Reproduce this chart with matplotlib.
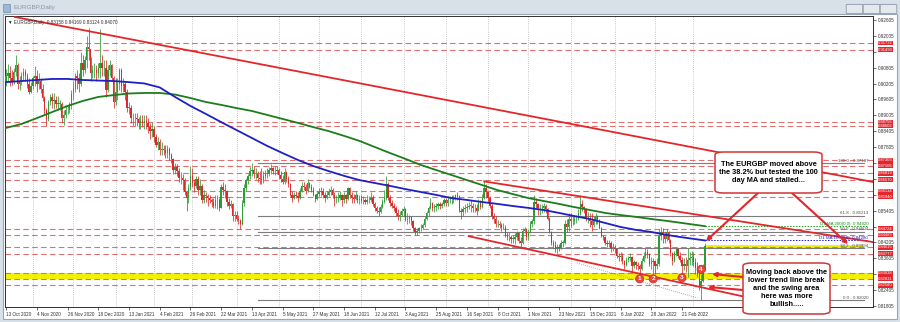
import matplotlib
matplotlib.use("Agg")
import matplotlib.pyplot as plt
import matplotlib.transforms as mtransforms
from matplotlib.patches import Rectangle, FancyBboxPatch
import numpy as np
import pandas as pd

plt.rcParams['font.family'] = ['Liberation Sans', 'DejaVu Sans']

# ---- daily EURGBP bars, 13 Oct 2020 .. 9 Mar 2022 (open = previous close) ----
first_open = 0.9030
closes = [
    # Oct 2020
    0.9050, 0.9060, 0.9040, 0.9030, 0.9065, 0.9090, 0.9020, 0.9030, 0.9050, 0.9065, 0.9050, 0.9020, 0.8990, 0.9010,
    # Nov 2020
    0.9040, 0.9050, 0.9020, 0.9030, 0.9000, 0.8965, 0.8920, 0.8885, 0.8950, 0.8970, 0.8955, 0.8960, 0.8945, 0.8945,
    0.8945, 0.8890, 0.8900, 0.8920, 0.8920, 0.8940, 0.8980,
    # Dec 2020
    0.9000, 0.9050, 0.9040, 0.9020, 0.9100, 0.9070, 0.9110, 0.9160, 0.9150, 0.9060, 0.9070, 0.9070, 0.9060, 0.9080,
    0.9100, 0.9080, 0.9080, 0.8995, 0.9070, 0.9090, 0.9040, 0.8950,
    # Jan 2021
    0.8990, 0.9020, 0.9070, 0.9010, 0.9020, 0.8990, 0.8930, 0.8930, 0.8890, 0.8890, 0.8890, 0.8885, 0.8870, 0.8880,
    0.8870, 0.8880, 0.8870, 0.8855, 0.8840, 0.8850,
    # Feb 2021
    0.8820, 0.8790, 0.8800, 0.8770, 0.8775, 0.8770, 0.8760, 0.8775, 0.8750, 0.8735, 0.8695, 0.8705, 0.8690, 0.8665,
    0.8665, 0.8655, 0.8610, 0.8590, 0.8625, 0.8670,
    # Mar 2021
    0.8645, 0.8635, 0.8660, 0.8620, 0.8635, 0.8580, 0.8600, 0.8595, 0.8590, 0.8580, 0.8575, 0.8560, 0.8580, 0.8580,
    0.8550, 0.8630, 0.8620, 0.8615, 0.8575, 0.8560, 0.8565, 0.8520, 0.8525,
    # Apr 2021
    0.8510, 0.8505, 0.8490, 0.8570, 0.8625, 0.8655, 0.8670, 0.8690, 0.8695, 0.8680, 0.8680, 0.8665, 0.8660, 0.8655,
    0.8670, 0.8680, 0.8680, 0.8695, 0.8700, 0.8690, 0.8690, 0.8695,
    # May 2021
    0.8675, 0.8660, 0.8650, 0.8685, 0.8660, 0.8640, 0.8600, 0.8590, 0.8600, 0.8595, 0.8590, 0.8615, 0.8635, 0.8630,
    0.8615, 0.8645, 0.8630, 0.8620, 0.8600, 0.8585, 0.8605,
    # Jun 2021
    0.8610, 0.8615, 0.8600, 0.8590, 0.8600, 0.8610, 0.8620, 0.8600, 0.8585, 0.8585, 0.8590, 0.8600, 0.8580, 0.8600,
    0.8585, 0.8625, 0.8600, 0.8590, 0.8585, 0.8600, 0.8580, 0.8585,
    # Jul 2021
    0.8580, 0.8580, 0.8575, 0.8580, 0.8580, 0.8590, 0.8565, 0.8550, 0.8540, 0.8535, 0.8555, 0.8575, 0.8590, 0.8640,
    0.8590, 0.8570, 0.8560, 0.8550, 0.8530, 0.8520, 0.8525, 0.8540,
    # Aug 2021
    0.8545, 0.8505, 0.8510, 0.8515, 0.8500, 0.8475, 0.8460, 0.8465, 0.8475, 0.8475, 0.8485, 0.8510, 0.8530, 0.8550,
    0.8570, 0.8550, 0.8555, 0.8560, 0.8565, 0.8560, 0.8565, 0.8580,
    # Sep 2021
    0.8570, 0.8580, 0.8580, 0.8580, 0.8590, 0.8600, 0.8595, 0.8540, 0.8535, 0.8545, 0.8550, 0.8555, 0.8560, 0.8560,
    0.8550, 0.8550, 0.8540, 0.8570, 0.8555, 0.8590, 0.8625, 0.8610,
    # Oct 2021
    0.8590, 0.8560, 0.8520, 0.8510, 0.8490, 0.8490, 0.8485, 0.8480, 0.8480, 0.8450, 0.8440, 0.8440, 0.8435, 0.8435,
    0.8440, 0.8455, 0.8425, 0.8420, 0.8465, 0.8470, 0.8440,
    # Nov 2021
    0.8460, 0.8490, 0.8500, 0.8575, 0.8565, 0.8550, 0.8550, 0.8550, 0.8560, 0.8545, 0.8510, 0.8460, 0.8420, 0.8410,
    0.8395, 0.8405, 0.8400, 0.8420, 0.8420, 0.8490, 0.8480, 0.8510,
    # Dec 2021
    0.8500, 0.8500, 0.8510, 0.8510, 0.8530, 0.8565, 0.8555, 0.8545, 0.8510, 0.8510, 0.8500, 0.8485, 0.8500, 0.8515,
    0.8505, 0.8475, 0.8445, 0.8440, 0.8420, 0.8415, 0.8420, 0.8400, 0.8400,
    # Jan 2022
    0.8395, 0.8370, 0.8365, 0.8370, 0.8350, 0.8335, 0.8355, 0.8360, 0.8365, 0.8330, 0.8345, 0.8335, 0.8330, 0.8320,
    0.8350, 0.8370, 0.8385, 0.8375, 0.8340, 0.8345, 0.8350,
    # Feb 2022
    0.8330, 0.8340, 0.8445, 0.8460, 0.8450, 0.8435, 0.8460, 0.8430, 0.8380, 0.8350, 0.8380, 0.8395, 0.8370, 0.8355,
    0.8330, 0.8340, 0.8330, 0.8355, 0.8360, 0.8365,
    # Mar 2022
    0.8345, 0.8325, 0.8300, 0.8255, 0.8275, 0.83158, 0.84070,
]
highs = [
    0.9075, 0.9095, 0.9085, 0.9070, 0.9080, 0.9128, 0.9100, 0.9050, 0.9065, 0.9080, 0.9075, 0.9060, 0.9040, 0.9025,
    0.9050, 0.9085, 0.9070, 0.9060, 0.9040, 0.9020, 0.8975, 0.8930, 0.8960, 0.8980, 0.8985, 0.8985, 0.8975, 0.8975,
    0.8960, 0.8950, 0.8920, 0.8940, 0.8940, 0.8950, 0.8995,
    0.9030, 0.9060, 0.9070, 0.9060, 0.9140, 0.9130, 0.9125, 0.9200, 0.9229, 0.9120, 0.9090, 0.9100, 0.9090, 0.9100,
    0.9225, 0.9130, 0.9110, 0.9110, 0.9090, 0.9110, 0.9095, 0.9050,
    0.9040, 0.9040, 0.9080, 0.9080, 0.9040, 0.9030, 0.9000, 0.8950, 0.8940, 0.8910, 0.8910, 0.8910, 0.8895, 0.8900,
    0.8900, 0.8900, 0.8900, 0.8890, 0.8870, 0.8875,
    0.8860, 0.8830, 0.8820, 0.8810, 0.8800, 0.8790, 0.8790, 0.8790, 0.8780, 0.8760, 0.8740, 0.8720, 0.8715, 0.8700,
    0.8685, 0.8680, 0.8665, 0.8615, 0.8640, 0.8710,
    0.8700, 0.8660, 0.8670, 0.8670, 0.8660, 0.8640, 0.8620, 0.8610, 0.8605, 0.8600, 0.8590, 0.8590, 0.8600, 0.8600,
    0.8590, 0.8640, 0.8650, 0.8640, 0.8620, 0.8590, 0.8580, 0.8570, 0.8540,
    0.8540, 0.8525, 0.8510, 0.8580, 0.8640, 0.8665, 0.8680, 0.8705, 0.8719, 0.8710, 0.8700, 0.8690, 0.8690, 0.8700,
    0.8690, 0.8695, 0.8700, 0.8705, 0.8715, 0.8705, 0.8710, 0.8710,
    0.8700, 0.8690, 0.8675, 0.8700, 0.8690, 0.8670, 0.8645, 0.8615, 0.8610, 0.8615, 0.8610, 0.8625, 0.8650, 0.8650,
    0.8640, 0.8660, 0.8650, 0.8640, 0.8630, 0.8605, 0.8615,
    0.8625, 0.8630, 0.8625, 0.8610, 0.8615, 0.8625, 0.8635, 0.8625, 0.8610, 0.8600, 0.8610, 0.8615, 0.8605, 0.8610,
    0.8605, 0.8630, 0.8630, 0.8610, 0.8605, 0.8615, 0.8605, 0.8600,
    0.8600, 0.8595, 0.8590, 0.8600, 0.8595, 0.8610, 0.8600, 0.8575, 0.8560, 0.8555, 0.8565, 0.8585, 0.8620, 0.8670,
    0.8650, 0.8600, 0.8580, 0.8570, 0.8560, 0.8545, 0.8540, 0.8550,
    0.8560, 0.8550, 0.8530, 0.8525, 0.8520, 0.8505, 0.8480, 0.8475, 0.8480, 0.8490, 0.8495, 0.8520, 0.8540, 0.8560,
    0.8590, 0.8575, 0.8565, 0.8570, 0.8575, 0.8575, 0.8575, 0.8590,
    0.8590, 0.8595, 0.8595, 0.8600, 0.8600, 0.8605, 0.8610, 0.8600, 0.8550, 0.8560, 0.8565, 0.8570, 0.8575, 0.8580,
    0.8570, 0.8565, 0.8565, 0.8585, 0.8580, 0.8605, 0.8658, 0.8640,
    0.8610, 0.8595, 0.8565, 0.8530, 0.8520, 0.8505, 0.8500, 0.8495, 0.8495, 0.8485, 0.8460, 0.8460, 0.8450, 0.8450,
    0.8455, 0.8465, 0.8460, 0.8440, 0.8475, 0.8480, 0.8475,
    0.8470, 0.8500, 0.8510, 0.8600, 0.8590, 0.8570, 0.8565, 0.8565, 0.8570, 0.8565, 0.8550, 0.8515, 0.8465, 0.8430,
    0.8425, 0.8415, 0.8415, 0.8430, 0.8430, 0.8505, 0.8510, 0.8530,
    0.8530, 0.8520, 0.8525, 0.8525, 0.8545, 0.8600, 0.8580, 0.8560, 0.8550, 0.8535, 0.8530, 0.8530, 0.8520, 0.8530,
    0.8525, 0.8510, 0.8480, 0.8450, 0.8445, 0.8430, 0.8430, 0.8425, 0.8420,
    0.8410, 0.8400, 0.8380, 0.8385, 0.8380, 0.8355, 0.8365, 0.8370, 0.8380, 0.8370, 0.8355, 0.8350, 0.8345, 0.8340,
    0.8360, 0.8385, 0.8400, 0.8395, 0.8380, 0.8365, 0.8360,
    0.8355, 0.8360, 0.8470, 0.8480, 0.8475, 0.8460, 0.8470, 0.8465, 0.8435, 0.8385, 0.8390, 0.8400, 0.8400, 0.8385,
    0.8365, 0.8360, 0.8365, 0.8400, 0.8385, 0.8390,
    0.8385, 0.8360, 0.8345, 0.8310, 0.8300, 0.8340, 0.84169,
]
lows = [
    0.9010, 0.9030, 0.9010, 0.9015, 0.9020, 0.9050, 0.9000, 0.8995, 0.9015, 0.9035, 0.9030, 0.9005, 0.8980, 0.8985,
    0.9000, 0.9010, 0.8990, 0.9000, 0.8985, 0.8955, 0.8900, 0.8860, 0.8880, 0.8940, 0.8930, 0.8925, 0.8930, 0.8920,
    0.8920, 0.8870, 0.8865, 0.8890, 0.8905, 0.8910, 0.8925,
    0.8960, 0.8990, 0.9000, 0.8990, 0.9010, 0.9050, 0.9060, 0.9080, 0.9110, 0.9030, 0.9040, 0.9040, 0.9030, 0.9040,
    0.9040, 0.9050, 0.9050, 0.8970, 0.8990, 0.9050, 0.9030, 0.8930,
    0.8940, 0.8960, 0.8995, 0.8990, 0.8990, 0.8960, 0.8915, 0.8905, 0.8870, 0.8860, 0.8860, 0.8860, 0.8850, 0.8850,
    0.8855, 0.8850, 0.8850, 0.8835, 0.8810, 0.8820,
    0.8800, 0.8780, 0.8770, 0.8750, 0.8750, 0.8750, 0.8740, 0.8740, 0.8730, 0.8720, 0.8680, 0.8680, 0.8670, 0.8650,
    0.8640, 0.8620, 0.8600, 0.8540, 0.8570, 0.8620,
    0.8630, 0.8610, 0.8625, 0.8600, 0.8600, 0.8570, 0.8570, 0.8575, 0.8560, 0.8570, 0.8555, 0.8550, 0.8550, 0.8545,
    0.8540, 0.8550, 0.8600, 0.8590, 0.8560, 0.8545, 0.8550, 0.8500, 0.8500,
    0.8500, 0.8490, 0.8472, 0.8485, 0.8560, 0.8615, 0.8640, 0.8660, 0.8670, 0.8665, 0.8660, 0.8650, 0.8640, 0.8640,
    0.8645, 0.8660, 0.8665, 0.8670, 0.8680, 0.8680, 0.8675, 0.8680,
    0.8660, 0.8650, 0.8640, 0.8640, 0.8650, 0.8630, 0.8595, 0.8575, 0.8585, 0.8590, 0.8575, 0.8585, 0.8610, 0.8620,
    0.8605, 0.8610, 0.8625, 0.8610, 0.8595, 0.8575, 0.8580,
    0.8595, 0.8595, 0.8590, 0.8575, 0.8585, 0.8595, 0.8600, 0.8590, 0.8560, 0.8570, 0.8575, 0.8580, 0.8560, 0.8570,
    0.8570, 0.8580, 0.8590, 0.8570, 0.8570, 0.8580, 0.8570, 0.8565,
    0.8570, 0.8565, 0.8565, 0.8565, 0.8570, 0.8575, 0.8560, 0.8540, 0.8530, 0.8520, 0.8530, 0.8550, 0.8570, 0.8580,
    0.8580, 0.8560, 0.8550, 0.8540, 0.8520, 0.8505, 0.8500, 0.8520,
    0.8520, 0.8500, 0.8490, 0.8495, 0.8485, 0.8465, 0.8450, 0.8450, 0.8455, 0.8465, 0.8470, 0.8480, 0.8505, 0.8520,
    0.8545, 0.8540, 0.8535, 0.8540, 0.8545, 0.8545, 0.8550, 0.8560,
    0.8560, 0.8560, 0.8570, 0.8565, 0.8570, 0.8580, 0.8580, 0.8535, 0.8510, 0.8520, 0.8530, 0.8535, 0.8545, 0.8535,
    0.8535, 0.8535, 0.8525, 0.8540, 0.8545, 0.8550, 0.8585, 0.8590,
    0.8575, 0.8550, 0.8510, 0.8495, 0.8480, 0.8480, 0.8475, 0.8465, 0.8470, 0.8440, 0.8430, 0.8425, 0.8420, 0.8420,
    0.8415, 0.8430, 0.8420, 0.8405, 0.8415, 0.8455, 0.8430,
    0.8430, 0.8455, 0.8480, 0.8490, 0.8550, 0.8525, 0.8525, 0.8530, 0.8535, 0.8530, 0.8505, 0.8455, 0.8410, 0.8400,
    0.8385, 0.8380, 0.8390, 0.8395, 0.8405, 0.8415, 0.8460, 0.8465,
    0.8480, 0.8485, 0.8490, 0.8495, 0.8505, 0.8525, 0.8540, 0.8530, 0.8500, 0.8495, 0.8480, 0.8465, 0.8480, 0.8490,
    0.8490, 0.8470, 0.8440, 0.8430, 0.8410, 0.8405, 0.8405, 0.8385, 0.8390,
    0.8380, 0.8360, 0.8350, 0.8350, 0.8340, 0.8320, 0.8330, 0.8345, 0.8350, 0.8310, 0.8325, 0.8320, 0.8315, 0.8300,
    0.8315, 0.8345, 0.8360, 0.8360, 0.8330, 0.8320, 0.8300,
    0.8300, 0.8320, 0.8330, 0.8430, 0.8420, 0.8420, 0.8425, 0.8420, 0.8370, 0.8335, 0.8345, 0.8370, 0.8360, 0.8345,
    0.8300, 0.8315, 0.8310, 0.8290, 0.8335, 0.8335,
    0.8330, 0.8300, 0.8290, 0.8240, 0.8202, 0.8270, 0.83124,
]

# moving averages read every 8 bars (plus the last bar)
ma_idx = list(range(0, 361, 8)) + [364]
ma100 = [0.9026, 0.9030, 0.9034, 0.9038, 0.9038, 0.9034, 0.9032, 0.9030, 0.9026, 0.9021, 0.9006, 0.8970,
         0.8936, 0.8906, 0.8875, 0.8845, 0.8815, 0.8785, 0.8758, 0.8732, 0.8709, 0.8690, 0.8672, 0.8656,
         0.8645, 0.8634, 0.8622, 0.8611, 0.8600, 0.8588, 0.8581, 0.8573, 0.8566, 0.8558, 0.8551, 0.8543,
         0.8532, 0.8520, 0.8509, 0.8494, 0.8479, 0.8468, 0.8460, 0.8449, 0.8440, 0.8432, 0.8428]
ma200 = [0.8853, 0.8868, 0.8890, 0.8913, 0.8936, 0.8955, 0.8970, 0.8977, 0.8983, 0.8985, 0.8985, 0.8979,
         0.8966, 0.8951, 0.8940, 0.8928, 0.8917, 0.8902, 0.8887, 0.8872, 0.8856, 0.8841, 0.8823, 0.8804,
         0.8781, 0.8758, 0.8736, 0.8713, 0.8694, 0.8675, 0.8656, 0.8637, 0.8618, 0.8603, 0.8588, 0.8577,
         0.8566, 0.8554, 0.8543, 0.8532, 0.8524, 0.8517, 0.8509, 0.8502, 0.8494, 0.8486, 0.8482]

# horizontal support / resistance levels (red tags on the price scale)
sr_levels = [0.91732, 0.91490, 0.88756, 0.88602, 0.87303, 0.87106, 0.86819, 0.86570, 0.86134, 0.85940,
             0.84724, 0.84483, 0.84015, 0.83777, 0.83038, 0.82831, 0.82580]

# fibonacci retracement Apr-2021 high -> Mar-2022 low
fib_start = 131
fib_high, fib_low = 0.87187, 0.82020
fib_pcts = [100.0, 61.8, 50.0, 38.2, 0.0]

# trend lines (bar index, price)
top_line = [(4.6, 0.92719), (451.5, 0.86488)]
mid_line = [(249.0, 0.86510), (451.5, 0.84220)]
low_line = [(241.0, 0.84440), (451.5, 0.81090)]
dot_line = [(297.3, 0.83429), (360.0, 0.82107)]

swing_band = (0.82831, 0.83038)
break_band = (0.83994, 0.84110)

circle_idx = [330, 337, 352, 362]
circle_price = [0.8283, 0.8283, 0.8287, 0.8319]

tick_base, tick_step, n_ticks = 0.81805, 0.006, 19

# ------------------------------------------------------------------------
dates = pd.bdate_range('2020-10-13', '2022-03-09')
dates = dates[~dates.isin(pd.to_datetime(['2020-12-25', '2021-01-01']))]
n = len(closes)
idx = np.arange(n)
c = np.array(closes)
o = np.array([first_open] + closes[:-1])
h = np.array(highs)
l = np.array(lows)

RED = '#e3262b'
UP = '#2f9a38'
DOWN = '#dc2a2a'

fig = plt.figure(figsize=(9, 3.22), dpi=100)
fig.patch.set_facecolor('#d8e0ea')

# window frame
fig.patches.append(Rectangle((3 / 900, 1 - 319 / 322), 894 / 900, 305 / 322, transform=fig.transFigure,
                             facecolor='white', edgecolor='#9aa6b4', lw=0.8, zorder=-5))
fig.patches.append(Rectangle((3 / 900, 1 - 12 / 322), 7 / 900, 8 / 322, transform=fig.transFigure,
                             facecolor='#9fb8d0', edgecolor='#7090b0', lw=0.5, zorder=-5))
fig.text(13 / 900, 1 - 8 / 322, 'EURGBP,Daily', fontsize=4.6, color='#8795a8', va='center')
for bx in (848, 865, 882):
    fig.patches.append(FancyBboxPatch((bx / 900, 1 - 13 / 322), 13 / 900, 8 / 322, transform=fig.transFigure,
                                      boxstyle='round,pad=0.002', facecolor='#e4e9ef', edgecolor='#8a96a6', lw=0.6,
                                      zorder=-5))

ax = fig.add_axes([5 / 900, 1 - 307 / 322, 868 / 900, 291 / 322])
ax.set_xlim(-0.57, 451.5)
ax.set_ylim(0.81767, 0.92757)
ax.set_facecolor('white')
for s in ax.spines.values():
    s.set_color('#303030')
    s.set_linewidth(0.7)

# month grid
month_starts = [i for i in range(1, n) if dates[i].month != dates[i - 1].month]
for m in month_starts:
    ax.axvline(m, color='#9a9a9a', lw=0.5, ls=(0, (1, 2)), zorder=1)

# bands and levels
ax.axhspan(*swing_band, color='#f2f200', lw=0, zorder=1.5)
ax.fill_between([n - 1, 447], break_band[0], break_band[1], color='#f2f200', lw=0, zorder=1.5)
for lv in sr_levels:
    ax.axhline(lv, color='#e07070', lw=0.8, ls=(0, (5, 3)), zorder=2)

for p in fib_pcts:
    lv = fib_low + (fib_high - fib_low) * p / 100
    ax.plot([fib_start, 447], [lv, lv], color='#7d7d7d', lw=0.8, zorder=2)
    ax.text(449, lv + 0.0002, f'{p:.1f} - {lv:.5f}', fontsize=3.2, color='#505050', ha='right', va='bottom',
            zorder=6)

# candles
col = np.where(c >= o, UP, DOWN)
ax.vlines(idx, l, h, colors=col, lw=0.55, zorder=3)
ax.bar(idx, np.maximum(np.abs(c - o), 0.00006), bottom=np.minimum(o, c), width=0.72, color=col, lw=0, zorder=3)

# moving averages
ax.plot(ma_idx, ma200, color='#1c7d1c', lw=1.3, zorder=4)
ax.plot(ma_idx, ma100, color='#1f1fc4', lw=1.3, zorder=4)
ax.plot([n - 1, 449], [ma200[-1]] * 2, color='#1c9d1c', lw=0.7, ls=(0, (1.5, 1.5)), zorder=4)
ax.plot([n - 1, 449], [ma100[-1]] * 2, color='#1f1fc4', lw=0.7, ls=(0, (1.5, 1.5)), zorder=4)
ax.text(449, ma200[-1] + 0.0002, f'D1 MA 200(0,0): {ma200[-1]:.5f}', fontsize=3.2, color='#1c8d1c',
        ha='right', va='bottom', zorder=6)
ax.text(449, ma100[-1] + 0.0002, f'D1 MA 100(0,0): {ma100[-1]:.5f}', fontsize=3.2, color='#2020c0',
        ha='right', va='bottom', zorder=6)

# trend lines
for ln in (top_line, mid_line, low_line):
    ax.plot([ln[0][0], ln[1][0]], [ln[0][1], ln[1][1]], color=RED, lw=1.3, zorder=5)
ax.plot([dot_line[0][0], dot_line[1][0]], [dot_line[0][1], dot_line[1][1]], color='#e07070', lw=0.6,
        ls=(0, (1, 1.5)), zorder=5)

# swing circles
for k, (ci, cp) in enumerate(zip(circle_idx, circle_price)):
    ax.text(ci, cp, str(k + 1), fontsize=4.6, color='white', fontweight='bold', ha='center', va='center', zorder=9,
            bbox=dict(boxstyle='circle,pad=0.25', fc='#e8473f', ec='#c83030', lw=0.5))

# y axis on the right (labels hidden where a red tag sits on top, as on the terminal)
ticks = [tick_base + k * tick_step for k in range(n_ticks)]
ax.yaxis.tick_right()
ax.set_yticks(ticks)
ax.set_yticklabels(['' if min(abs(t - lv) for lv in sr_levels) < 0.0011 else f'{t:.5f}' for t in ticks])
ax.tick_params(axis='y', labelsize=3.3, length=2, width=0.5, pad=1.5, colors='#303030')

# x axis labels every 16 bars
xt = list(range(0, n, 16))
ax.set_xticks(xt)
ax.set_xticklabels([f'{dates[i].day} {dates[i].strftime("%b %Y")}' for i in xt])
ax.tick_params(axis='x', labelsize=3.3, length=2, width=0.5, pad=1.5, colors='#303030')
for t in ax.get_xticklabels():
    t.set_horizontalalignment('left')

# price tags
trans = mtransforms.blended_transform_factory(ax.transAxes, ax.transData)
for lv in sr_levels:
    ax.text(1.006, lv, f'{lv:.5f}', transform=trans, fontsize=3.0, color='white', va='center', ha='left',
            clip_on=False, zorder=10, bbox=dict(fc=RED, ec='none', pad=0.25))

# info line
ax.text(0.004, 0.985, '\u25bc EURGBP,Daily  0.83158 0.84169 0.83124 0.84070', transform=ax.transAxes,
        fontsize=3.3, color='#303030', va='top', ha='left', zorder=10, family=['Liberation Sans', 'DejaVu Sans'])


# annotations (pixel positions of the picture -> axes fraction)
def px(x, y):
    return ((x - 5) / 868, (307 - y) / 291)


def note(x0, y0, x1, y1, txt):
    bx, by = px(x0, y1)
    w, hgt = (x1 - x0) / 868, (y1 - y0) / 291
    ax.add_patch(FancyBboxPatch((bx, by), w, hgt, transform=ax.transAxes, boxstyle='round,pad=0,rounding_size=0.01',
                                fc='white', ec='#d03535', lw=1.1, zorder=11, clip_on=False))
    cx, cy = px((x0 + x1) / 2, (y0 + y1) / 2)
    ax.text(cx, cy, txt, transform=ax.transAxes, fontsize=5.3, fontweight='bold', ha='center', va='center',
            linespacing=1.25, zorder=12, clip_on=False)


def arrow(x0, y0, x1, y1, head=True):
    ax.annotate('', xy=px(x1, y1), xytext=px(x0, y0), xycoords='axes fraction', textcoords='axes fraction',
                arrowprops=dict(arrowstyle='-|>' if head else '-', color=RED, lw=1.5, mutation_scale=6,
                                shrinkA=0, shrinkB=0), zorder=10, annotation_clip=False)


arrow(758, 193, 706, 241)
arrow(792, 193, 848, 244)
arrow(743, 277, 712, 274)
arrow(743, 290, 708, 287)
note(715, 152, 822, 193, 'The EURGBP moved above\nthe 38.2% but tested the 100\nday MA and stalled...')
note(743, 263, 830, 314, 'Moving back above the\nlower trend line break\nand the swing area\nhere was more\nbullish.....')

fig.savefig('out.png', dpi=100, facecolor=fig.get_facecolor())
